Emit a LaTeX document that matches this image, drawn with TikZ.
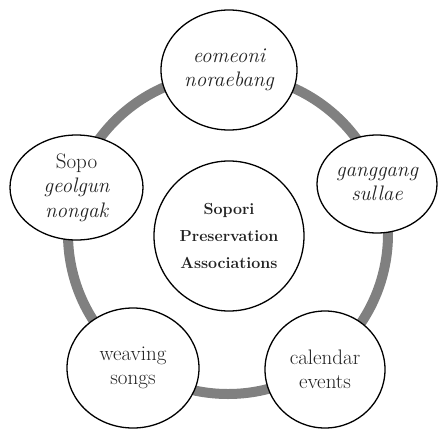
\documentclass[tikz,border=0pt]{standalone}
\usetikzlibrary{shapes.geometric}
\definecolor{ringgray}{HTML}{808080}
\definecolor{txt}{HTML}{222222}
\tikzset{
  bubble/.style={ellipse, draw=black, line width=1.3pt, fill=white, inner sep=0pt,
    align=center, text=txt, font=\fontsize{21}{24.5}\selectfont},
  hub/.style={bubble, font=\bfseries\fontsize{16}{27}\selectfont},
  ring/.style={draw=ringgray, line width=10pt}
}
\begin{document}
\begin{tikzpicture}[x=1pt, y=-1pt]
\useasboundingbox (0,0) rectangle (442,429);
\coordinate (c) at (228,234);
\draw[ring] (c) circle (160);
\node[hub, minimum width=150, minimum height=150] (hubnode) at (229,236) {Sopori\\Preservation\\Associations};
\node[bubble, minimum width=136, minimum height=120] (top) at (229,70) {\itshape eomeoni\\\itshape noraebang};
\node[bubble, minimum width=133, minimum height=105] (sopo) at (76.5,187.5) {Sopo\\\itshape geolgun\\\itshape nongak};
\node[bubble, minimum width=120, minimum height=98] (gang) at (377,184) {\itshape ganggang\\\itshape sullae};
\node[bubble, minimum width=132, minimum height=120] (weave) at (133,368) {weaving\\songs};
\node[bubble, minimum width=120, minimum height=117] (cal) at (325,369.5) {calendar\\events};
\end{tikzpicture}
\end{document}
